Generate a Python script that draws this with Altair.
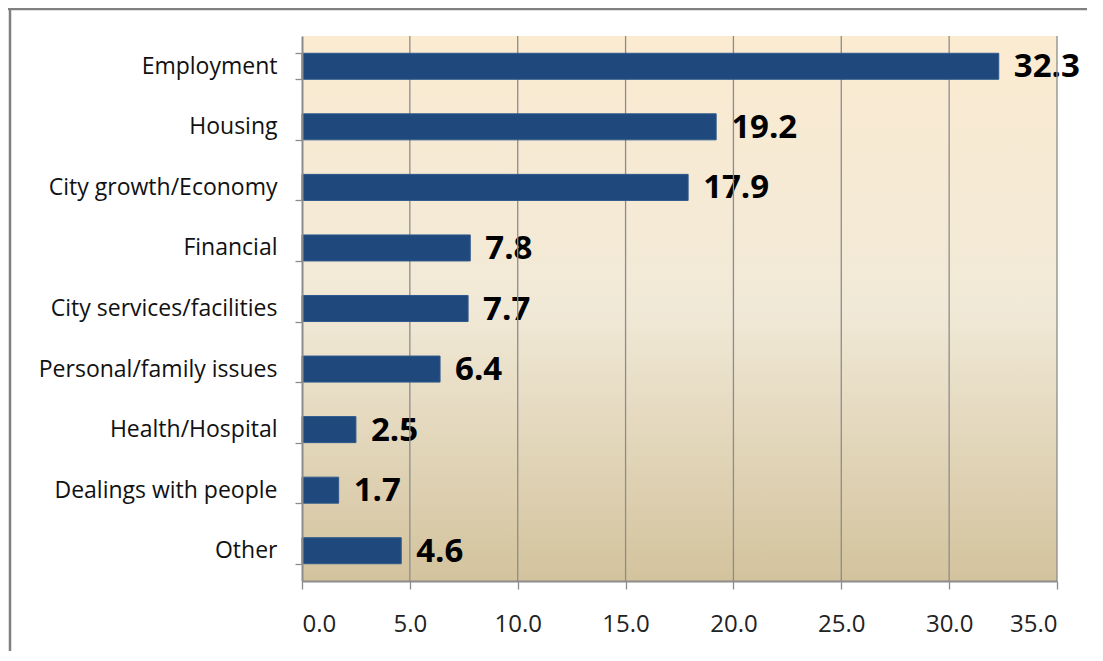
import altair as alt
import pandas as pd

categories = ["Employment", "Housing", "City growth/Economy", "Financial",
              "City services/facilities", "Personal/family issues",
              "Health/Hospital", "Dealings with people", "Other"]
values = [32.3, 19.2, 17.9, 7.8, 7.7, 6.4, 2.5, 1.7, 4.6]
grid_values = [5, 10, 15, 20, 25, 30, 35]
tick_values = [0, 5, 10, 15, 20, 25, 30, 35]

W, H = 755, 545
df = pd.DataFrame({"cat": categories, "val": values})
grid_df = pd.DataFrame({"g": grid_values})

FONT = "Open Sans"
xscale = alt.Scale(domain=[0, 35], nice=False)
yscale = alt.Scale(domain=categories, paddingInner=0.57, paddingOuter=0.285)

xaxis = alt.Axis(values=tick_values, format=".1f", grid=False, zindex=1,
                 domainColor="#8C8C8C", domainWidth=2, tickColor="#8C8C8C",
                 tickWidth=1.3, tickSize=8, labelFont=FONT, labelFontSize=24,
                 labelColor="#222222", labelPadding=23)
yaxis = alt.Axis(tickBand="extent", domainColor="#8C8C8C", domainWidth=2, zindex=1,
                 tickColor="#8C8C8C", tickWidth=1.3, tickSize=7,
                 labelFont=FONT, labelFontSize=23, labelColor="#111111",
                 labelPadding=18, labelLimit=300)

bg = alt.Chart(pd.DataFrame({"a": [0]})).mark_rect(
    color={"gradient": "linear", "x1": 0, "y1": 0, "x2": 0, "y2": 1,
           "stops": [{"offset": 0, "color": "#FBEBD1"},
                     {"offset": 0.5, "color": "#F1E9D7"},
                     {"offset": 1, "color": "#D3C39D"}]}
).encode(x=alt.value(0), x2=alt.value(W), y=alt.value(0), y2=alt.value(H))

labels = alt.Chart(df).mark_text(align="left", baseline="middle", dx=15, dy=1,
                                 font=FONT, fontSize=33, fontWeight="bold",
                                 color="#000000").encode(
    x=alt.X("val:Q", scale=xscale, title=None, axis=xaxis),
    y=alt.Y("cat:N", scale=yscale, sort=categories, title=None, axis=yaxis),
    text=alt.Text("val:Q", format=".1f"))

grid = alt.Chart(grid_df).mark_rule(color="#8C8C8C", strokeWidth=1.3).encode(
    x=alt.X("g:Q", scale=xscale, title=None, axis=xaxis),
    y=alt.value(0), y2=alt.value(H))

bars = alt.Chart(df).mark_bar(color="#1F497D", stroke="#2F5A8C", strokeWidth=1).encode(
    x=alt.X("val:Q", scale=xscale, title=None, axis=xaxis),
    y=alt.Y("cat:N", scale=yscale, sort=categories, title=None, axis=yaxis))

frame_top = alt.Chart(pd.DataFrame({"a": [0]})).mark_rule(
    color="#808080", strokeWidth=2.5, clip=False).encode(
    x=alt.value(-294), x2=alt.value(820), y=alt.value(-27))
frame_left = alt.Chart(pd.DataFrame({"a": [0]})).mark_rule(
    color="#808080", strokeWidth=2.5, clip=False).encode(
    x=alt.value(-292), y=alt.value(-28), y2=alt.value(680))

chart = alt.layer(bg, labels, grid, bars, frame_top, frame_left).properties(
    width=W, height=H,
    autosize=alt.AutoSizeParams(type="none"),
    padding={"left": 294, "top": 28, "right": 30, "bottom": 70},
    background="white"
).configure_view(stroke=None)

chart.save("out.html", embed_options={"renderer": "svg", "actions": False})
